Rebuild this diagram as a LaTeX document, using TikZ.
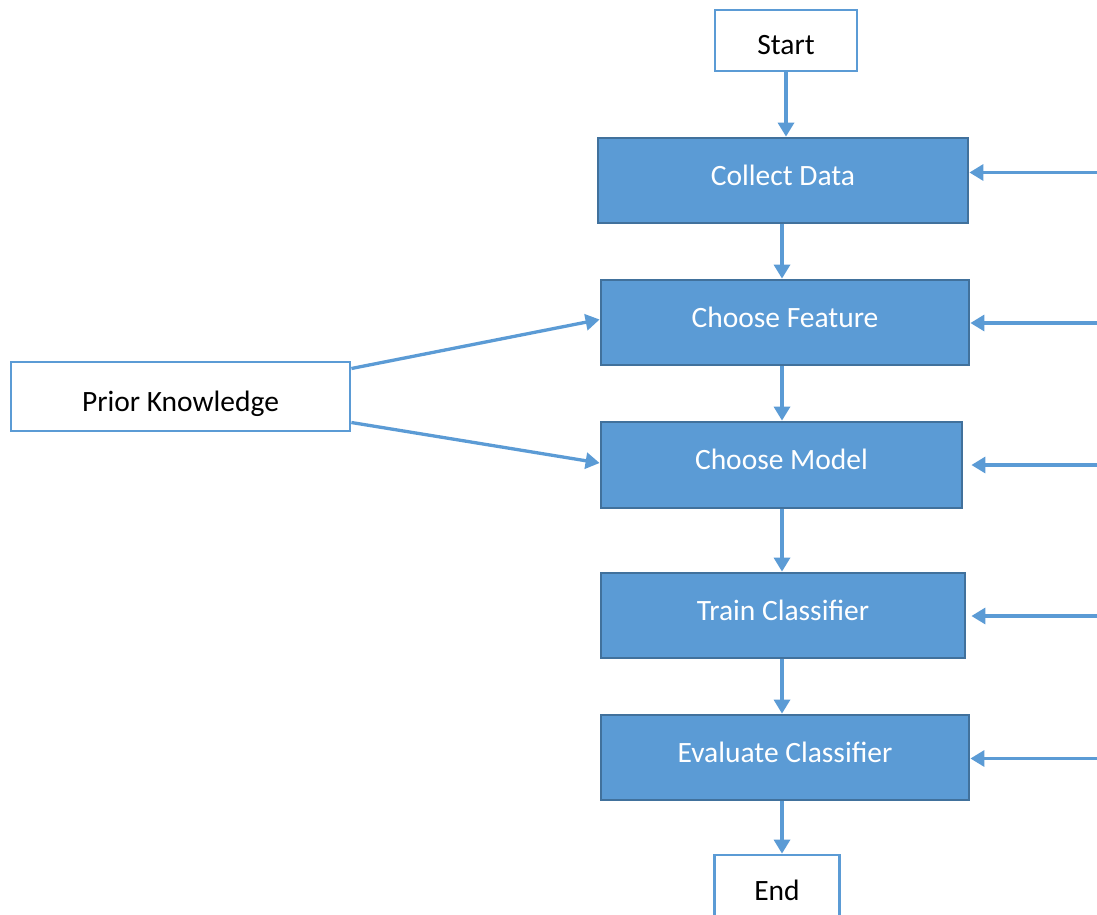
\documentclass[tikz,border=0pt]{standalone}
\usepackage{fontspec}
\setmainfont{Carlito}
\usetikzlibrary{arrows.meta}
\definecolor{boxblue}{HTML}{5B9BD5}
\definecolor{boxedge}{HTML}{41719C}
\begin{document}
\begin{tikzpicture}[x=1pt,y=-1pt,
  every node/.style={font=\fontsize{29.5}{35}\selectfont, inner sep=0pt},
  stepbox/.style={draw=boxedge, fill=boxblue, line width=2.8pt, text=white, rectangle,
    text height=20pt, text depth=11pt},
  plainbox/.style={draw=boxblue, fill=white, line width=2.8pt, text=black, rectangle,
    text height=29pt, text depth=0pt},
  arr/.style={draw=boxblue, line width=3.3pt, -{Triangle[length=14pt,width=16pt]}}
]
\useasboundingbox (0,0) rectangle (1097,915);
\clip (0,0) rectangle (1097,915);
\fill[white] (0,0) rectangle (1097,915);

% terminal and process boxes
\node[plainbox, minimum width=142pt, minimum height=61pt] (start) at (786,40.5) {Start};
\node[stepbox, minimum width=370pt, minimum height=85pt] (collect) at (783,180.5) {Collect Data};
\node[stepbox, minimum width=368pt, minimum height=85pt] (feature) at (785,322.5) {Choose Feature};
\node[stepbox, minimum width=361pt, minimum height=86pt] (model) at (781.5,465) {Choose Model};
\node[stepbox, minimum width=364pt, minimum height=85pt] (train) at (783,615.5) {Train Classifier};
\node[stepbox, minimum width=368pt, minimum height=85pt] (eval) at (785,757.5) {Evaluate Classifier};
\node[plainbox, minimum width=125pt, minimum height=61pt] (end) at (777,885.5) {End};
\node[plainbox, minimum width=339pt, minimum height=69pt] (prior) at (180.5,396.5) {Prior Knowledge};

% main flow
\coordinate (axis) at (782,0);
\draw[arr] (start.south) -- (start.south |- collect.north);
\draw[arr] (axis |- collect.south) -- (axis |- feature.north);
\draw[arr] (axis |- feature.south) -- (axis |- model.north);
\draw[arr] (axis |- model.south) -- (axis |- train.north);
\draw[arr] (axis |- train.south) -- (axis |- eval.north);
\draw[arr] (axis |- eval.south) -- (axis |- end.north);

% prior knowledge inputs
\draw[arr] ([yshift=28pt]prior.east) -- ([yshift=3pt]feature.west);
\draw[arr] ([yshift=-26pt]prior.east) -- ([yshift=2pt]model.west);

% feedback inputs entering from the right
\coordinate (r1) at (1097,172.5);
\coordinate (r2) at (1097,323);
\coordinate (r3) at (1097,465);
\coordinate (r4) at (1097,616);
\coordinate (r5) at (1097,758.5);
\draw[arr] (r1) -- (r1 -| collect.east);
\draw[arr] (r2) -- (r2 -| feature.east);
\draw[arr] (r3) -- ([xshift=8pt]r3 -| model.east);
\draw[arr] (r4) -- ([xshift=5pt]r4 -| train.east);
\draw[arr] (r5) -- (r5 -| eval.east);
\end{tikzpicture}
\end{document}
